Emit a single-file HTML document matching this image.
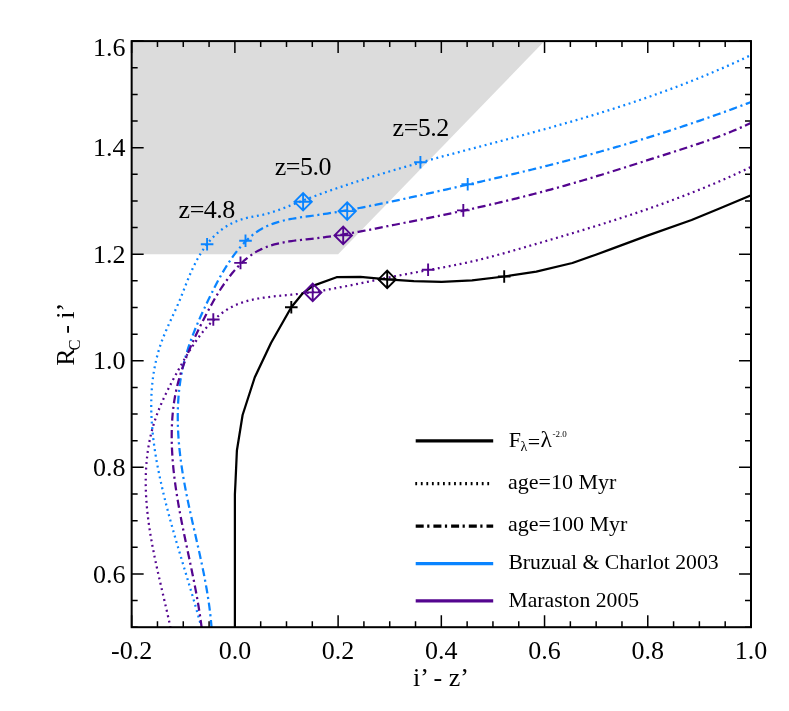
<!DOCTYPE html>
<html><head><meta charset="utf-8"><title>Colour-colour diagram</title>
<style>
html,body{margin:0;padding:0;background:#fff;}
body{width:789px;height:711px;position:relative;overflow:hidden;font-family:"Liberation Serif",serif;}
</style></head><body>
<svg width="789" height="711" viewBox="0 0 789 711" style="position:absolute;left:0;top:0;will-change:transform">
<rect width="789" height="711" fill="#fff"/>
<polygon points="131.66,41.10 544.55,41.10 338.11,254.23 131.66,254.23" fill="#dcdcdc"/>
<clipPath id="c"><rect x="131.66" y="41.1" width="619.34" height="586.1"/></clipPath>
<g clip-path="url(#c)" fill="none" stroke-linecap="butt" stroke-linejoin="round">
<path d="M201.61,628.06 L200.96,625.62 L200.30,623.19 L199.63,620.76 L198.96,618.34 L198.28,615.91 L197.60,613.49 L196.92,611.08 L196.23,608.66 L195.54,606.25 L194.84,603.85 L194.15,601.44 L193.45,599.04 L192.74,596.64 L192.04,594.24 L191.33,591.84 L190.62,589.45 L189.91,587.05 L189.19,584.66 L188.48,582.27 L187.77,579.88 L187.05,577.49 L186.33,575.11 L185.62,572.72 L184.90,570.34 L184.19,567.95 L183.47,565.57 L182.76,563.19 L182.04,560.80 L181.33,558.42 L180.62,556.04 L179.91,553.65 L179.20,551.27 L178.50,548.89 L177.80,546.50 L177.10,544.12 L176.40,541.73 L175.71,539.34 L175.02,536.96 L174.34,534.57 L173.65,532.18 L172.98,529.78 L172.30,527.39 L171.64,524.99 L170.97,522.60 L170.31,520.20 L169.66,517.80 L169.01,515.39 L168.37,512.99 L167.74,510.58 L167.11,508.17 L166.49,505.75 L165.87,503.34 L165.27,500.92 L164.67,498.49 L164.08,496.07 L163.49,493.64 L162.91,491.20 L162.35,488.76 L161.79,486.32 L161.24,483.88 L160.70,481.43 L160.16,478.97 L159.64,476.52 L159.13,474.05 L158.63,471.59 L158.14,469.12 L157.66,466.65 L157.20,464.17 L156.75,461.70 L156.31,459.22 L155.89,456.73 L155.48,454.25 L155.09,451.76 L154.71,449.28 L154.35,446.79 L154.01,444.30 L153.68,441.80 L153.37,439.31 L153.08,436.82 L152.81,434.32 L152.56,431.83 L152.33,429.33 L152.11,426.84 L151.92,424.34 L151.76,421.85 L151.61,419.36 L151.49,416.86 L151.39,414.37 L151.31,411.88 L151.26,409.39 L151.23,406.91 L151.23,404.42 L151.25,401.94 L151.30,399.46 L151.38,396.98 L151.49,394.51 L151.62,392.04 L151.78,389.57 L151.97,387.10 L152.19,384.64 L152.44,382.18 L152.72,379.73 L153.03,377.28 L153.38,374.83 L153.75,372.39 L154.16,369.95 L154.61,367.52 L155.08,365.10 L155.59,362.68 L156.14,360.26 L156.72,357.85 L157.34,355.45 L157.99,353.05 L158.68,350.66 L159.41,348.27 L160.17,345.90 L160.98,343.53 L161.82,341.16 L162.71,338.81 L163.63,336.46 L164.58,334.12 L165.56,331.78 L166.56,329.45 L167.58,327.13 L168.62,324.81 L169.67,322.50 L170.73,320.19 L171.79,317.89 L172.86,315.59 L173.92,313.29 L174.97,311.00 L176.01,308.71 L177.04,306.42 L178.04,304.14 L179.02,301.85 L179.98,299.57 L180.91,297.29 L181.82,295.01 L182.72,292.74 L183.60,290.46 L184.49,288.17 L185.38,285.89 L186.27,283.61 L187.18,281.32 L188.11,279.02 L189.06,276.73 L190.03,274.43 L191.04,272.13 L192.08,269.83 L193.14,267.54 L194.25,265.25 L195.38,262.98 L196.55,260.73 L197.77,258.50 L199.02,256.29 L200.31,254.11 L201.64,251.96 L203.02,249.84 L204.44,247.76 L205.91,245.72 L207.42,243.72 L208.99,241.78 L210.61,239.88 L212.28,238.03 L214.00,236.25 L215.78,234.53 L217.61,232.87 L219.51,231.28 L221.46,229.76 L223.47,228.31 L225.54,226.93 L227.65,225.63 L229.81,224.41 L232.02,223.26 L234.27,222.19 L236.56,221.20 L238.89,220.29 L241.25,219.47 L243.65,218.72 L246.07,218.06 L248.52,217.48 L250.98,216.96 L253.46,216.49 L255.94,216.03 L258.43,215.58 L260.90,215.10 L263.35,214.58 L265.79,213.99 L268.20,213.35 L270.60,212.66 L272.98,211.92 L275.34,211.14 L277.70,210.32 L280.04,209.47 L282.37,208.60 L284.70,207.71 L287.02,206.80 L289.34,205.88 L291.66,204.96 L293.98,204.04 L296.30,203.13 L298.63,202.22 L300.95,201.32 L303.28,200.43 L305.61,199.54 L307.95,198.66 L310.28,197.78 L312.62,196.91 L314.96,196.05 L317.30,195.19 L319.65,194.33 L321.99,193.49 L324.34,192.64 L326.69,191.81 L329.04,190.98 L331.40,190.15 L333.75,189.33 L336.11,188.52 L338.47,187.71 L340.84,186.90 L343.20,186.10 L345.57,185.31 L347.93,184.52 L350.30,183.73 L352.67,182.95 L355.04,182.17 L357.42,181.40 L359.79,180.64 L362.17,179.88 L364.55,179.12 L366.93,178.37 L369.31,177.62 L371.69,176.87 L374.08,176.13 L376.46,175.40 L378.85,174.66 L381.24,173.94 L383.63,173.21 L386.02,172.49 L388.41,171.78 L390.80,171.06 L393.20,170.35 L395.59,169.65 L397.99,168.95 L400.38,168.25 L402.78,167.55 L405.18,166.86 L407.58,166.17 L409.98,165.49 L412.38,164.81 L414.78,164.13 L417.18,163.45 L419.59,162.78 L421.99,162.11 L424.40,161.44 L426.80,160.77 L429.21,160.11 L431.61,159.45 L434.02,158.79 L436.43,158.13 L438.84,157.48 L441.25,156.82 L443.66,156.17 L446.07,155.52 L448.48,154.88 L450.89,154.23 L453.30,153.58 L455.71,152.94 L458.12,152.30 L460.53,151.65 L462.95,151.01 L465.36,150.37 L467.77,149.73 L470.18,149.10 L472.60,148.46 L475.01,147.82 L477.43,147.18 L479.84,146.55 L482.25,145.91 L484.67,145.27 L487.08,144.64 L489.49,144.00 L491.91,143.36 L494.32,142.72 L496.74,142.09 L499.15,141.45 L501.56,140.81 L503.98,140.17 L506.39,139.53 L508.80,138.89 L511.22,138.24 L513.63,137.60 L516.04,136.96 L518.46,136.31 L520.87,135.66 L523.28,135.01 L525.69,134.36 L528.10,133.71 L530.51,133.05 L532.92,132.40 L535.33,131.74 L537.74,131.08 L540.15,130.41 L542.56,129.75 L544.97,129.08 L547.37,128.41 L549.78,127.74 L552.18,127.06 L554.59,126.38 L556.99,125.70 L559.40,125.02 L561.80,124.33 L564.20,123.64 L566.60,122.95 L569.01,122.26 L571.41,121.56 L573.80,120.86 L576.20,120.15 L578.60,119.44 L581.00,118.73 L583.39,118.02 L585.78,117.30 L588.18,116.58 L590.57,115.86 L592.96,115.13 L595.35,114.40 L597.74,113.66 L600.13,112.93 L602.51,112.18 L604.90,111.44 L607.28,110.69 L609.66,109.94 L612.05,109.18 L614.43,108.42 L616.80,107.65 L619.18,106.88 L621.56,106.11 L623.93,105.33 L626.30,104.55 L628.68,103.77 L631.05,102.98 L633.41,102.18 L635.78,101.39 L638.15,100.58 L640.51,99.78 L642.87,98.97 L645.23,98.15 L647.59,97.33 L649.95,96.50 L652.30,95.67 L654.65,94.84 L657.01,94.00 L659.36,93.16 L661.70,92.31 L664.05,91.45 L666.39,90.59 L668.73,89.73 L671.07,88.86 L673.41,87.98 L675.75,87.10 L678.08,86.22 L680.41,85.33 L682.74,84.43 L685.07,83.53 L687.40,82.63 L689.72,81.72 L692.04,80.80 L694.36,79.87 L696.68,78.95 L698.99,78.01 L701.30,77.07 L703.61,76.13 L705.92,75.17 L708.22,74.22 L710.53,73.25 L712.82,72.28 L715.12,71.31 L717.42,70.33 L719.71,69.34 L722.00,68.35 L724.29,67.35 L726.57,66.34 L728.85,65.33 L731.13,64.31 L733.41,63.28 L735.68,62.25 L737.95,61.21 L740.22,60.17 L742.49,59.11 L744.75,58.06 L747.01,56.99 L749.26,55.92 L751.52,54.84 L753.77,53.75 L756.02,52.66" stroke="#0a84ff" stroke-width="2.25" stroke-dasharray="1.9 3.65"/>
<path d="M170.59,627.98 L170.07,625.57 L169.55,623.16 L169.02,620.75 L168.49,618.34 L167.95,615.93 L167.40,613.51 L166.85,611.09 L166.30,608.67 L165.74,606.25 L165.18,603.82 L164.62,601.40 L164.05,598.97 L163.49,596.54 L162.92,594.10 L162.36,591.67 L161.79,589.23 L161.22,586.80 L160.66,584.36 L160.10,581.91 L159.54,579.47 L158.98,577.03 L158.43,574.58 L157.88,572.13 L157.34,569.68 L156.80,567.23 L156.27,564.78 L155.75,562.32 L155.23,559.86 L154.72,557.41 L154.22,554.95 L153.72,552.49 L153.24,550.02 L152.77,547.56 L152.30,545.10 L151.85,542.63 L151.41,540.16 L150.98,537.69 L150.56,535.22 L150.16,532.75 L149.77,530.28 L149.39,527.80 L149.03,525.33 L148.69,522.85 L148.36,520.38 L148.05,517.90 L147.75,515.42 L147.48,512.94 L147.22,510.46 L146.98,507.97 L146.75,505.49 L146.55,503.00 L146.37,500.52 L146.21,498.03 L146.07,495.55 L145.96,493.06 L145.86,490.57 L145.79,488.08 L145.75,485.59 L145.72,483.10 L145.73,480.60 L145.75,478.11 L145.81,475.62 L145.89,473.13 L145.99,470.63 L146.13,468.14 L146.29,465.66 L146.48,463.17 L146.70,460.68 L146.95,458.20 L147.22,455.73 L147.53,453.25 L147.87,450.79 L148.24,448.33 L148.64,445.87 L149.07,443.42 L149.54,440.98 L150.03,438.54 L150.56,436.11 L151.13,433.69 L151.73,431.28 L152.36,428.88 L153.03,426.49 L153.73,424.11 L154.47,421.74 L155.25,419.38 L156.06,417.04 L156.90,414.70 L157.77,412.37 L158.67,410.06 L159.60,407.75 L160.56,405.46 L161.55,403.17 L162.55,400.89 L163.59,398.62 L164.64,396.36 L165.71,394.11 L166.80,391.87 L167.91,389.63 L169.04,387.41 L170.18,385.19 L171.33,382.97 L172.50,380.77 L173.67,378.57 L174.86,376.38 L176.05,374.19 L177.25,372.01 L178.45,369.84 L179.66,367.67 L180.87,365.51 L182.09,363.35 L183.32,361.20 L184.56,359.04 L185.83,356.89 L187.12,354.73 L188.43,352.58 L189.77,350.42 L191.13,348.28 L192.52,346.13 L193.94,344.00 L195.38,341.89 L196.86,339.79 L198.36,337.71 L199.89,335.66 L201.46,333.63 L203.05,331.63 L204.67,329.67 L206.32,327.74 L208.01,325.85 L209.73,324.00 L211.48,322.20 L213.26,320.45 L215.08,318.74 L216.93,317.10 L218.82,315.51 L220.74,313.98 L222.69,312.52 L224.68,311.12 L226.71,309.80 L228.78,308.54 L230.88,307.37 L233.02,306.27 L235.20,305.25 L237.41,304.31 L239.65,303.43 L241.93,302.62 L244.23,301.87 L246.57,301.18 L248.92,300.55 L251.31,299.96 L253.71,299.43 L256.14,298.94 L258.58,298.49 L261.05,298.07 L263.53,297.69 L266.02,297.34 L268.52,297.02 L271.04,296.72 L273.56,296.44 L276.09,296.17 L278.63,295.92 L281.17,295.67 L283.71,295.43 L286.26,295.19 L288.80,294.95 L291.33,294.70 L293.87,294.44 L296.39,294.16 L298.91,293.88 L301.43,293.58 L303.93,293.26 L306.43,292.93 L308.92,292.59 L311.41,292.24 L313.89,291.87 L316.37,291.50 L318.84,291.11 L321.30,290.71 L323.76,290.30 L326.22,289.89 L328.67,289.46 L331.12,289.03 L333.56,288.58 L336.00,288.13 L338.44,287.68 L340.88,287.21 L343.31,286.75 L345.74,286.27 L348.17,285.79 L350.60,285.31 L353.02,284.82 L355.45,284.33 L357.87,283.83 L360.29,283.33 L362.71,282.84 L365.14,282.33 L367.56,281.83 L369.98,281.33 L372.40,280.83 L374.83,280.32 L377.25,279.82 L379.68,279.32 L382.10,278.82 L384.53,278.33 L386.97,277.84 L389.40,277.35 L391.84,276.86 L394.28,276.38 L396.72,275.90 L399.17,275.43 L401.62,274.96 L404.07,274.50 L406.53,274.04 L408.99,273.59 L411.45,273.14 L413.91,272.69 L416.38,272.25 L418.85,271.81 L421.32,271.36 L423.79,270.92 L426.26,270.48 L428.73,270.03 L431.21,269.59 L433.68,269.14 L436.15,268.69 L438.62,268.23 L441.09,267.78 L443.56,267.31 L446.03,266.85 L448.50,266.37 L450.96,265.90 L453.43,265.41 L455.89,264.92 L458.34,264.41 L460.80,263.91 L463.25,263.39 L465.70,262.86 L468.14,262.32 L470.58,261.77 L473.01,261.21 L475.45,260.63 L477.87,260.05 L480.30,259.46 L482.72,258.86 L485.13,258.25 L487.55,257.63 L489.96,257.00 L492.37,256.37 L494.77,255.72 L497.18,255.07 L499.58,254.42 L501.98,253.76 L504.37,253.09 L506.77,252.42 L509.16,251.74 L511.56,251.06 L513.95,250.38 L516.34,249.69 L518.74,249.00 L521.13,248.31 L523.52,247.62 L525.91,246.92 L528.30,246.22 L530.69,245.53 L533.09,244.83 L535.48,244.13 L537.87,243.43 L540.27,242.73 L542.66,242.03 L545.05,241.33 L547.45,240.62 L549.84,239.92 L552.24,239.21 L554.63,238.50 L557.03,237.79 L559.42,237.08 L561.81,236.37 L564.21,235.66 L566.60,234.94 L568.99,234.23 L571.39,233.51 L573.78,232.79 L576.17,232.06 L578.57,231.34 L580.96,230.61 L583.35,229.88 L585.74,229.15 L588.13,228.42 L590.52,227.68 L592.90,226.94 L595.29,226.20 L597.68,225.46 L600.06,224.71 L602.45,223.96 L604.83,223.21 L607.22,222.45 L609.60,221.69 L611.98,220.93 L614.36,220.17 L616.74,219.40 L619.11,218.63 L621.49,217.85 L623.86,217.07 L626.24,216.29 L628.61,215.51 L630.98,214.72 L633.35,213.92 L635.72,213.13 L638.08,212.33 L640.45,211.52 L642.81,210.71 L645.17,209.90 L647.53,209.08 L649.88,208.26 L652.24,207.43 L654.59,206.60 L656.94,205.77 L659.29,204.93 L661.64,204.08 L663.99,203.23 L666.33,202.38 L668.67,201.52 L671.01,200.66 L673.35,199.79 L675.68,198.91 L678.02,198.04 L680.35,197.15 L682.68,196.26 L685.00,195.37 L687.33,194.46 L689.65,193.56 L691.97,192.65 L694.29,191.73 L696.61,190.80 L698.92,189.87 L701.23,188.94 L703.54,188.00 L705.85,187.05 L708.15,186.10 L710.46,185.14 L712.76,184.17 L715.05,183.20 L717.35,182.22 L719.64,181.23 L721.93,180.24 L724.22,179.24 L726.50,178.23 L728.79,177.22 L731.07,176.20 L733.34,175.17 L735.62,174.14 L737.89,173.10 L740.16,172.05 L742.43,170.99 L744.69,169.93 L746.95,168.86 L749.21,167.78 L751.47,166.69 L753.72,165.60 L755.97,164.50" stroke="#54058f" stroke-width="2.25" stroke-dasharray="1.9 3.65"/>
<path d="M211.59,628.08 L211.39,625.56 L211.18,623.05 L210.95,620.54 L210.70,618.04 L210.43,615.54 L210.15,613.05 L209.85,610.56 L209.54,608.07 L209.21,605.58 L208.86,603.10 L208.50,600.63 L208.13,598.15 L207.74,595.68 L207.35,593.22 L206.94,590.75 L206.51,588.29 L206.08,585.83 L205.64,583.37 L205.18,580.92 L204.72,578.47 L204.25,576.02 L203.77,573.57 L203.28,571.13 L202.78,568.68 L202.27,566.24 L201.76,563.80 L201.25,561.36 L200.72,558.92 L200.19,556.49 L199.66,554.05 L199.13,551.62 L198.58,549.19 L198.04,546.75 L197.49,544.32 L196.95,541.89 L196.40,539.46 L195.84,537.03 L195.29,534.60 L194.74,532.17 L194.19,529.74 L193.64,527.31 L193.09,524.88 L192.54,522.45 L191.99,520.01 L191.45,517.58 L190.91,515.15 L190.38,512.71 L189.85,510.28 L189.32,507.84 L188.80,505.40 L188.28,502.97 L187.77,500.53 L187.27,498.08 L186.78,495.64 L186.29,493.19 L185.81,490.75 L185.34,488.30 L184.88,485.84 L184.43,483.39 L183.99,480.93 L183.56,478.47 L183.14,476.01 L182.74,473.55 L182.34,471.08 L181.96,468.61 L181.60,466.13 L181.24,463.66 L180.90,461.18 L180.58,458.69 L180.27,456.20 L179.98,453.71 L179.70,451.22 L179.44,448.72 L179.19,446.22 L178.97,443.72 L178.76,441.21 L178.57,438.71 L178.40,436.20 L178.25,433.69 L178.12,431.18 L178.00,428.67 L177.91,426.16 L177.84,423.65 L177.79,421.14 L177.77,418.64 L177.76,416.13 L177.78,413.62 L177.82,411.12 L177.88,408.62 L177.97,406.12 L178.09,403.62 L178.22,401.13 L178.39,398.64 L178.58,396.16 L178.79,393.67 L179.03,391.20 L179.30,388.72 L179.60,386.25 L179.92,383.79 L180.28,381.33 L180.66,378.88 L181.07,376.44 L181.51,374.00 L181.98,371.57 L182.48,369.14 L183.01,366.72 L183.57,364.31 L184.17,361.91 L184.79,359.52 L185.44,357.13 L186.12,354.75 L186.83,352.38 L187.57,350.01 L188.32,347.65 L189.11,345.30 L189.92,342.95 L190.75,340.61 L191.60,338.27 L192.48,335.94 L193.37,333.62 L194.29,331.30 L195.22,328.99 L196.17,326.68 L197.14,324.37 L198.12,322.07 L199.12,319.78 L200.14,317.49 L201.16,315.20 L202.20,312.92 L203.25,310.64 L204.32,308.36 L205.39,306.09 L206.47,303.82 L207.56,301.55 L208.66,299.29 L209.76,297.03 L210.87,294.77 L211.99,292.52 L213.12,290.27 L214.25,288.02 L215.40,285.78 L216.56,283.55 L217.74,281.33 L218.93,279.11 L220.14,276.91 L221.37,274.72 L222.61,272.54 L223.89,270.38 L225.18,268.22 L226.50,266.09 L227.85,263.97 L229.22,261.87 L230.63,259.79 L232.06,257.72 L233.53,255.68 L235.03,253.66 L236.57,251.66 L238.15,249.69 L239.76,247.74 L241.42,245.83 L243.11,243.95 L244.84,242.11 L246.61,240.33 L248.42,238.60 L250.28,236.92 L252.17,235.32 L254.10,233.79 L256.08,232.33 L258.10,230.95 L260.15,229.67 L262.25,228.47 L264.39,227.34 L266.56,226.30 L268.77,225.33 L271.01,224.43 L273.28,223.59 L275.58,222.81 L277.91,222.10 L280.26,221.43 L282.63,220.81 L285.03,220.24 L287.44,219.71 L289.88,219.21 L292.32,218.75 L294.79,218.32 L297.26,217.91 L299.74,217.52 L302.24,217.15 L304.73,216.79 L307.24,216.44 L309.74,216.09 L312.25,215.75 L314.75,215.40 L317.25,215.05 L319.75,214.68 L322.24,214.31 L324.73,213.94 L327.22,213.56 L329.70,213.17 L332.19,212.77 L334.66,212.37 L337.14,211.96 L339.62,211.54 L342.09,211.12 L344.55,210.69 L347.02,210.26 L349.48,209.82 L351.95,209.38 L354.41,208.93 L356.86,208.47 L359.32,208.01 L361.77,207.55 L364.22,207.08 L366.67,206.61 L369.12,206.13 L371.56,205.64 L374.01,205.16 L376.45,204.67 L378.89,204.17 L381.33,203.67 L383.77,203.17 L386.21,202.66 L388.65,202.16 L391.08,201.64 L393.52,201.13 L395.95,200.61 L398.38,200.09 L400.81,199.56 L403.24,199.04 L405.67,198.51 L408.10,197.98 L410.53,197.44 L412.96,196.91 L415.39,196.37 L417.82,195.83 L420.25,195.29 L422.68,194.75 L425.11,194.21 L427.53,193.67 L429.96,193.12 L432.39,192.58 L434.82,192.03 L437.25,191.48 L439.68,190.94 L442.11,190.39 L444.54,189.84 L446.97,189.29 L449.41,188.74 L451.84,188.20 L454.27,187.65 L456.70,187.10 L459.14,186.55 L461.57,185.99 L464.01,185.44 L466.44,184.89 L468.88,184.34 L471.31,183.78 L473.75,183.23 L476.18,182.67 L478.62,182.11 L481.05,181.55 L483.49,180.99 L485.92,180.43 L488.36,179.87 L490.79,179.31 L493.23,178.74 L495.66,178.17 L498.10,177.61 L500.53,177.04 L502.97,176.47 L505.40,175.89 L507.83,175.32 L510.27,174.74 L512.70,174.16 L515.13,173.58 L517.57,173.00 L520.00,172.42 L522.43,171.83 L524.86,171.24 L527.29,170.65 L529.72,170.06 L532.15,169.47 L534.58,168.87 L537.01,168.27 L539.43,167.67 L541.86,167.06 L544.29,166.46 L546.71,165.85 L549.14,165.23 L551.56,164.62 L553.98,164.00 L556.40,163.38 L558.82,162.76 L561.24,162.13 L563.66,161.50 L566.08,160.87 L568.50,160.24 L570.91,159.60 L573.33,158.96 L575.74,158.31 L578.16,157.67 L580.57,157.02 L582.98,156.37 L585.39,155.71 L587.80,155.05 L590.21,154.39 L592.62,153.73 L595.03,153.06 L597.43,152.39 L599.84,151.72 L602.24,151.04 L604.64,150.36 L607.05,149.68 L609.45,149.00 L611.85,148.31 L614.25,147.62 L616.65,146.92 L619.04,146.23 L621.44,145.53 L623.83,144.82 L626.23,144.11 L628.62,143.40 L631.01,142.69 L633.40,141.97 L635.79,141.25 L638.18,140.53 L640.57,139.81 L642.96,139.08 L645.34,138.34 L647.73,137.61 L650.11,136.87 L652.49,136.13 L654.88,135.38 L657.26,134.63 L659.64,133.88 L662.01,133.12 L664.39,132.36 L666.77,131.60 L669.14,130.84 L671.52,130.07 L673.89,129.29 L676.26,128.52 L678.63,127.74 L681.00,126.95 L683.37,126.17 L685.74,125.38 L688.10,124.59 L690.47,123.79 L692.83,122.99 L695.19,122.18 L697.56,121.38 L699.92,120.57 L702.28,119.75 L704.63,118.93 L706.99,118.11 L709.35,117.29 L711.70,116.46 L714.05,115.63 L716.41,114.79 L718.76,113.95 L721.11,113.11 L723.46,112.26 L725.80,111.41 L728.15,110.55 L730.49,109.70 L732.84,108.83 L735.18,107.97 L737.52,107.10 L739.86,106.23 L742.20,105.35 L744.54,104.47 L746.87,103.58 L749.21,102.70 L751.54,101.80 L753.88,100.91 L756.21,100.01" stroke="#0a84ff" stroke-width="2.25" stroke-dasharray="8.1 3.7 2.1 3.6"/>
<path d="M201.69,628.06 L201.38,625.57 L201.05,623.09 L200.72,620.61 L200.37,618.13 L200.01,615.66 L199.64,613.19 L199.26,610.72 L198.86,608.25 L198.46,605.79 L198.04,603.33 L197.62,600.87 L197.19,598.41 L196.75,595.95 L196.30,593.50 L195.84,591.05 L195.38,588.59 L194.91,586.15 L194.43,583.70 L193.95,581.25 L193.46,578.81 L192.97,576.36 L192.47,573.92 L191.97,571.48 L191.47,569.04 L190.96,566.59 L190.45,564.16 L189.94,561.72 L189.42,559.28 L188.91,556.84 L188.39,554.40 L187.88,551.96 L187.36,549.53 L186.85,547.09 L186.33,544.65 L185.82,542.21 L185.31,539.78 L184.80,537.34 L184.30,534.90 L183.79,532.46 L183.30,530.02 L182.80,527.58 L182.31,525.14 L181.83,522.69 L181.35,520.25 L180.88,517.81 L180.41,515.36 L179.96,512.91 L179.50,510.47 L179.06,508.02 L178.63,505.56 L178.20,503.11 L177.78,500.66 L177.38,498.20 L176.98,495.74 L176.59,493.28 L176.22,490.82 L175.85,488.35 L175.50,485.88 L175.16,483.41 L174.84,480.94 L174.52,478.47 L174.22,475.99 L173.94,473.51 L173.67,471.02 L173.41,468.54 L173.18,466.05 L172.95,463.56 L172.75,461.06 L172.56,458.56 L172.38,456.06 L172.23,453.55 L172.10,451.05 L171.98,448.54 L171.88,446.03 L171.81,443.52 L171.75,441.01 L171.72,438.50 L171.71,435.99 L171.72,433.49 L171.76,430.98 L171.82,428.48 L171.90,425.98 L172.01,423.48 L172.15,420.98 L172.31,418.49 L172.50,416.00 L172.72,413.52 L172.96,411.04 L173.23,408.57 L173.53,406.11 L173.87,403.65 L174.23,401.19 L174.62,398.75 L175.04,396.31 L175.50,393.88 L175.99,391.46 L176.51,389.05 L177.06,386.65 L177.65,384.25 L178.26,381.87 L178.91,379.49 L179.58,377.12 L180.28,374.75 L181.01,372.40 L181.77,370.05 L182.55,367.71 L183.35,365.37 L184.18,363.04 L185.03,360.72 L185.91,358.40 L186.81,356.09 L187.72,353.79 L188.66,351.49 L189.62,349.20 L190.59,346.91 L191.59,344.62 L192.60,342.34 L193.62,340.07 L194.67,337.80 L195.72,335.53 L196.79,333.27 L197.88,331.01 L198.97,328.76 L200.08,326.51 L201.20,324.26 L202.33,322.01 L203.47,319.77 L204.61,317.53 L205.77,315.29 L206.93,313.05 L208.10,310.82 L209.29,308.60 L210.49,306.38 L211.70,304.17 L212.93,301.97 L214.17,299.78 L215.44,297.60 L216.72,295.43 L218.02,293.28 L219.35,291.14 L220.70,289.02 L222.08,286.92 L223.48,284.84 L224.91,282.77 L226.37,280.73 L227.85,278.71 L229.38,276.71 L230.93,274.73 L232.52,272.78 L234.14,270.87 L235.80,268.98 L237.49,267.13 L239.22,265.32 L240.99,263.56 L242.80,261.85 L244.64,260.19 L246.52,258.60 L248.43,257.06 L250.39,255.59 L252.38,254.19 L254.41,252.87 L256.49,251.63 L258.60,250.47 L260.75,249.39 L262.94,248.40 L265.16,247.47 L267.41,246.62 L269.70,245.84 L272.02,245.11 L274.36,244.45 L276.73,243.84 L279.12,243.28 L281.53,242.77 L283.96,242.30 L286.41,241.87 L288.88,241.47 L291.36,241.10 L293.85,240.76 L296.35,240.44 L298.86,240.14 L301.38,239.85 L303.89,239.58 L306.42,239.31 L308.94,239.04 L311.46,238.77 L313.97,238.49 L316.49,238.20 L318.99,237.90 L321.49,237.59 L323.98,237.27 L326.47,236.94 L328.95,236.59 L331.43,236.24 L333.90,235.88 L336.37,235.51 L338.84,235.13 L341.30,234.74 L343.75,234.34 L346.20,233.93 L348.65,233.52 L351.10,233.10 L353.55,232.67 L355.99,232.24 L358.43,231.80 L360.86,231.36 L363.30,230.91 L365.73,230.45 L368.16,229.99 L370.59,229.53 L373.02,229.06 L375.45,228.59 L377.88,228.11 L380.31,227.64 L382.74,227.16 L385.17,226.67 L387.60,226.19 L390.03,225.70 L392.46,225.22 L394.90,224.73 L397.33,224.24 L399.77,223.75 L402.21,223.26 L404.65,222.77 L407.09,222.29 L409.53,221.80 L411.97,221.30 L414.42,220.81 L416.86,220.32 L419.31,219.83 L421.76,219.33 L424.20,218.84 L426.65,218.34 L429.10,217.84 L431.55,217.34 L434.00,216.84 L436.45,216.34 L438.90,215.83 L441.35,215.33 L443.79,214.82 L446.24,214.31 L448.69,213.79 L451.14,213.28 L453.59,212.76 L456.03,212.24 L458.48,211.72 L460.92,211.20 L463.36,210.67 L465.81,210.14 L468.25,209.61 L470.69,209.07 L473.13,208.53 L475.56,207.99 L478.00,207.45 L480.44,206.90 L482.87,206.35 L485.30,205.79 L487.73,205.24 L490.16,204.68 L492.59,204.11 L495.02,203.55 L497.45,202.98 L499.88,202.41 L502.30,201.83 L504.72,201.25 L507.15,200.67 L509.57,200.08 L511.99,199.49 L514.41,198.90 L516.83,198.30 L519.24,197.70 L521.66,197.09 L524.08,196.49 L526.49,195.87 L528.90,195.26 L531.31,194.64 L533.72,194.02 L536.13,193.39 L538.54,192.76 L540.95,192.13 L543.36,191.49 L545.76,190.85 L548.17,190.20 L550.57,189.55 L552.97,188.90 L555.38,188.24 L557.78,187.58 L560.18,186.91 L562.58,186.24 L564.97,185.56 L567.37,184.88 L569.77,184.20 L572.16,183.51 L574.56,182.82 L576.95,182.12 L579.34,181.42 L581.73,180.72 L584.12,180.01 L586.51,179.30 L588.90,178.59 L591.29,177.87 L593.68,177.15 L596.07,176.42 L598.45,175.70 L600.84,174.97 L603.22,174.23 L605.61,173.50 L607.99,172.76 L610.37,172.02 L612.75,171.28 L615.13,170.53 L617.52,169.78 L619.90,169.03 L622.28,168.28 L624.66,167.53 L627.03,166.78 L629.41,166.02 L631.79,165.26 L634.17,164.50 L636.55,163.75 L638.92,162.98 L641.30,162.22 L643.68,161.46 L646.05,160.70 L648.43,159.94 L650.80,159.17 L653.18,158.41 L655.55,157.64 L657.93,156.88 L660.30,156.11 L662.68,155.35 L665.05,154.59 L667.43,153.82 L669.80,153.06 L672.17,152.30 L674.55,151.54 L676.92,150.78 L679.29,150.01 L681.67,149.25 L684.04,148.48 L686.41,147.72 L688.78,146.94 L691.14,146.17 L693.51,145.39 L695.87,144.60 L698.23,143.81 L700.59,143.02 L702.95,142.21 L705.30,141.40 L707.65,140.58 L710.00,139.75 L712.34,138.91 L714.68,138.06 L717.02,137.20 L719.35,136.33 L721.68,135.45 L724.00,134.56 L726.32,133.65 L728.64,132.72 L730.95,131.79 L733.25,130.83 L735.55,129.87 L737.84,128.88 L740.13,127.88 L742.41,126.86 L744.69,125.82 L746.95,124.76 L749.22,123.69 L751.47,122.59 L753.72,121.47 L755.96,120.33" stroke="#54058f" stroke-width="2.25" stroke-dasharray="8.1 3.7 2.1 3.6"/>
<path d="M234.90,629.00 L234.90,494.20 L235.50,482.00 L236.90,450.50 L242.60,415.00 L254.70,377.50 L271.00,343.00 L291.30,307.20 L302.30,293.70 L313.50,285.60 L336.60,277.20 L360.40,276.90 L387.20,279.40 L413.80,281.20 L441.70,281.80 L472.10,280.30 L504.20,276.50 L536.30,271.70 L572.40,263.00 L595.80,254.70 L611.00,249.10 L646.70,235.90 L691.60,220.00 L717.70,209.30 L738.00,200.80 L751.10,195.20 L756.00,193.00" stroke="#000" stroke-width="2.25"/>
</g>
<path d="M200.80,244.30H213.40M207.10,238.00V250.60" stroke="#0a84ff" stroke-width="1.9" fill="none"/>
<path d="M294.40,201.80L303.10,193.10L311.80,201.80L303.10,210.50ZM294.40,201.80H311.80M303.10,193.10V210.50" stroke="#0a84ff" stroke-width="1.9" fill="none" stroke-linejoin="miter"/>
<path d="M414.10,162.30H426.70M420.40,156.00V168.60" stroke="#0a84ff" stroke-width="1.9" fill="none"/>
<path d="M239.20,240.80H251.80M245.50,234.50V247.10" stroke="#0a84ff" stroke-width="1.9" fill="none"/>
<path d="M338.50,211.10L347.20,202.40L355.90,211.10L347.20,219.80ZM338.50,211.10H355.90M347.20,202.40V219.80" stroke="#0a84ff" stroke-width="1.9" fill="none" stroke-linejoin="miter"/>
<path d="M461.40,184.30H474.00M467.70,178.00V190.60" stroke="#0a84ff" stroke-width="1.9" fill="none"/>
<path d="M234.20,262.90H246.80M240.50,256.60V269.20" stroke="#54058f" stroke-width="1.9" fill="none"/>
<path d="M334.50,235.40L343.20,226.70L351.90,235.40L343.20,244.10ZM334.50,235.40H351.90M343.20,226.70V244.10" stroke="#54058f" stroke-width="1.9" fill="none" stroke-linejoin="miter"/>
<path d="M457.00,210.40H469.60M463.30,204.10V216.70" stroke="#54058f" stroke-width="1.9" fill="none"/>
<path d="M207.00,319.50H219.60M213.30,313.20V325.80" stroke="#54058f" stroke-width="1.9" fill="none"/>
<path d="M304.00,292.40L312.70,283.70L321.40,292.40L312.70,301.10ZM304.00,292.40H321.40M312.70,283.70V301.10" stroke="#54058f" stroke-width="1.9" fill="none" stroke-linejoin="miter"/>
<path d="M421.80,269.80H434.40M428.10,263.50V276.10" stroke="#54058f" stroke-width="1.9" fill="none"/>
<path d="M285.00,307.20H297.60M291.30,300.90V313.50" stroke="#000" stroke-width="1.9" fill="none"/>
<path d="M378.50,279.40L387.20,270.70L395.90,279.40L387.20,288.10ZM378.50,279.40H395.90M387.20,270.70V288.10" stroke="#000" stroke-width="1.9" fill="none" stroke-linejoin="miter"/>
<path d="M497.90,276.50H510.50M504.20,270.20V282.80" stroke="#000" stroke-width="1.9" fill="none"/>
<rect x="131.66" y="41.1" width="619.34" height="586.1" fill="none" stroke="#000" stroke-width="2"/>
<path d="M131.66,627.2v-12M131.66,41.1v12M157.47,627.2v-6M157.47,41.1v6M183.27,627.2v-6M183.27,41.1v6M209.08,627.2v-6M209.08,41.1v6M234.88,627.2v-12M234.88,41.1v12M260.69,627.2v-6M260.69,41.1v6M286.50,627.2v-6M286.50,41.1v6M312.30,627.2v-6M312.30,41.1v6M338.11,627.2v-12M338.11,41.1v12M363.91,627.2v-6M363.91,41.1v6M389.72,627.2v-6M389.72,41.1v6M415.52,627.2v-6M415.52,41.1v6M441.33,627.2v-12M441.33,41.1v12M467.14,627.2v-6M467.14,41.1v6M492.94,627.2v-6M492.94,41.1v6M518.75,627.2v-6M518.75,41.1v6M544.55,627.2v-12M544.55,41.1v12M570.36,627.2v-6M570.36,41.1v6M596.16,627.2v-6M596.16,41.1v6M621.97,627.2v-6M621.97,41.1v6M647.78,627.2v-12M647.78,41.1v12M673.58,627.2v-6M673.58,41.1v6M699.39,627.2v-6M699.39,41.1v6M725.19,627.2v-6M725.19,41.1v6M751.00,627.2v-12M751.00,41.1v12M131.66,627.20h6M751.0,627.20h-6M131.66,600.56h6M751.0,600.56h-6M131.66,573.92h12M751.0,573.92h-12M131.66,547.28h6M751.0,547.28h-6M131.66,520.64h6M751.0,520.64h-6M131.66,494.00h6M751.0,494.00h-6M131.66,467.35h12M751.0,467.35h-12M131.66,440.71h6M751.0,440.71h-6M131.66,414.07h6M751.0,414.07h-6M131.66,387.43h6M751.0,387.43h-6M131.66,360.79h12M751.0,360.79h-12M131.66,334.15h6M751.0,334.15h-6M131.66,307.51h6M751.0,307.51h-6M131.66,280.87h6M751.0,280.87h-6M131.66,254.23h12M751.0,254.23h-12M131.66,227.59h6M751.0,227.59h-6M131.66,200.95h6M751.0,200.95h-6M131.66,174.30h6M751.0,174.30h-6M131.66,147.66h12M751.0,147.66h-12M131.66,121.02h6M751.0,121.02h-6M131.66,94.38h6M751.0,94.38h-6M131.66,67.74h6M751.0,67.74h-6M131.66,41.10h12M751.0,41.10h-12" stroke="#000" stroke-width="1.5" fill="none"/>
<text x="131.66" y="659.00" font-family="Liberation Serif" font-size="26" text-anchor="middle" fill="#000" >-0.2</text>
<text x="234.88" y="659.00" font-family="Liberation Serif" font-size="26" text-anchor="middle" fill="#000" >0.0</text>
<text x="338.11" y="659.00" font-family="Liberation Serif" font-size="26" text-anchor="middle" fill="#000" >0.2</text>
<text x="441.33" y="659.00" font-family="Liberation Serif" font-size="26" text-anchor="middle" fill="#000" >0.4</text>
<text x="544.55" y="659.00" font-family="Liberation Serif" font-size="26" text-anchor="middle" fill="#000" >0.6</text>
<text x="647.78" y="659.00" font-family="Liberation Serif" font-size="26" text-anchor="middle" fill="#000" >0.8</text>
<text x="751.00" y="659.00" font-family="Liberation Serif" font-size="26" text-anchor="middle" fill="#000" >1.0</text>
<text x="125.50" y="582.62" font-family="Liberation Serif" font-size="26" text-anchor="end" fill="#000" >0.6</text>
<text x="125.50" y="476.05" font-family="Liberation Serif" font-size="26" text-anchor="end" fill="#000" >0.8</text>
<text x="125.50" y="369.49" font-family="Liberation Serif" font-size="26" text-anchor="end" fill="#000" >1.0</text>
<text x="125.50" y="262.93" font-family="Liberation Serif" font-size="26" text-anchor="end" fill="#000" >1.2</text>
<text x="125.50" y="156.36" font-family="Liberation Serif" font-size="26" text-anchor="end" fill="#000" >1.4</text>
<text x="125.50" y="56.30" font-family="Liberation Serif" font-size="26" text-anchor="end" fill="#000" >1.6</text>
<text x="441.00" y="686.00" font-family="Liberation Serif" font-size="26" text-anchor="middle" fill="#000" >i’ - z’</text>
<g transform="translate(74,334.3) rotate(-90)"><text x="0.00" y="0.00" font-family="Liberation Serif" font-size="26" text-anchor="middle" fill="#000" >R<tspan font-size="16.5" dy="6" dx="-2">C</tspan><tspan dy="-6" dx="-0.8"> - i’</tspan></text></g>
<text x="178.60" y="217.60" font-family="Liberation Serif" font-size="26" text-anchor="start" fill="#000" letter-spacing="-0.5">z=4.8</text>
<text x="274.70" y="174.60" font-family="Liberation Serif" font-size="26" text-anchor="start" fill="#000" letter-spacing="-0.5">z=5.0</text>
<text x="392.60" y="135.90" font-family="Liberation Serif" font-size="26" text-anchor="start" fill="#000" letter-spacing="-0.5">z=5.2</text>
<path d="M415.7,440.8H493.2" stroke="#000" stroke-width="3.3"/>
<path d="M415.3,483.6H490" stroke="#000" stroke-width="3.4" stroke-dasharray="1.8 3.74"/>
<path d="M415.7,526.1H493.2" stroke="#000" stroke-width="3.4" stroke-dasharray="8 3.5 2.2 4"/>
<path d="M415.7,563.55H493.2" stroke="#0a84ff" stroke-width="3.3"/>
<path d="M415.7,600.8H493.2" stroke="#54058f" stroke-width="3.3"/>
<text x="508.70" y="446.80" font-family="Liberation Serif" font-size="22" text-anchor="start" fill="#000" >F</text>
<text x="520.40" y="451.00" font-family="Liberation Serif" font-size="14" text-anchor="start" fill="#000" >λ</text>
<text x="527.80" y="448.60" font-family="Liberation Serif" font-size="22" text-anchor="start" fill="#000" >=</text>
<text x="540.40" y="446.80" font-family="Liberation Serif" font-size="23.6" text-anchor="start" fill="#000" >λ</text>
<text x="552.60" y="436.70" font-family="Liberation Serif" font-size="9" text-anchor="start" fill="#000" >-2.0</text>
<text x="508.00" y="488.60" font-family="Liberation Serif" font-size="22" text-anchor="start" fill="#000" >age=10 Myr</text>
<text x="508.00" y="530.70" font-family="Liberation Serif" font-size="22" text-anchor="start" fill="#000" >age=100 Myr</text>
<text x="508.40" y="569.00" font-family="Liberation Serif" font-size="21.7" text-anchor="start" fill="#000" >Bruzual &amp; Charlot 2003</text>
<text x="508.40" y="606.80" font-family="Liberation Serif" font-size="21.7" text-anchor="start" fill="#000" >Maraston 2005</text>
</svg>
</body></html>
